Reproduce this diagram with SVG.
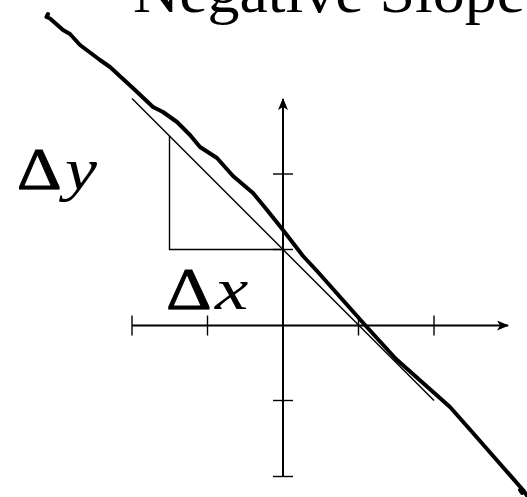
<svg xmlns="http://www.w3.org/2000/svg" width="527" height="497" viewBox="0 0 527 497">
<style>
.axis{stroke:#000;stroke-width:2;fill:none}
.tick{stroke:#000;stroke-width:1.4;fill:none}
.thin{stroke:#000;stroke-width:1.4;fill:none}
.hand{stroke:#000;stroke-width:4;fill:none;stroke-linejoin:round;stroke-linecap:round}
.lbl{font-family:"Liberation Serif","DejaVu Serif",serif;font-size:60px;fill:#000}
.it{font-style:italic}
</style>
<defs>
<marker id="arr" viewBox="0 0 12 10" refX="11" refY="5" markerWidth="6" markerHeight="5" orient="auto" markerUnits="strokeWidth">
<path d="M0 0 L12 5 L0 10 L3 5 Z" fill="#000"/>
</marker>
</defs>
<rect width="527" height="497" fill="#fff"/>
<g id="title">
<text class="lbl" x="133" y="12" textLength="392" lengthAdjust="spacingAndGlyphs">Negative Slope</text>
</g>
<g id="axes">
<line class="axis" x1="132" y1="325.5" x2="508" y2="325.5" marker-end="url(#arr)"/>
<line class="axis" x1="283" y1="476.5" x2="283" y2="99" marker-end="url(#arr)"/>
<g id="ticks">
<line class="tick" x1="132" y1="315.5" x2="132" y2="335.5"/>
<line class="tick" x1="207.5" y1="315.5" x2="207.5" y2="335.5"/>
<line class="tick" x1="358.5" y1="315.5" x2="358.5" y2="335.5"/>
<line class="tick" x1="434" y1="315.5" x2="434" y2="335.5"/>
<line class="tick" x1="273" y1="174" x2="293" y2="174"/>
<line class="tick" x1="273" y1="249.5" x2="293" y2="249.5"/>
<line class="tick" x1="273" y1="400.5" x2="293" y2="400.5"/>
<line class="tick" x1="273" y1="476.5" x2="293" y2="476.5"/>
</g>
</g>
<g id="connectors">
<line id="line" class="thin" x1="132" y1="98.5" x2="434" y2="400.5"/>
<polyline id="triangle" class="thin" points="169.5,136 169.5,249.5 283,249.5"/>
<path id="freehand" class="hand" d="M48,14 L46.5,17 L50,18.5 L63,30 L70,34 L80,45 L100,60 L110,67 L135,90 L153,107 L163,112 L177,122 L190,135 L200,147 L217,158 L233,176 L253,193 L267,210 L283,230 L303,256 L317,271 L365,325 L396,359 L450,407 L473,433 L523,490 L528,497"/>
<path class="hand" d="M520,490 L522,493"/>
</g>
<g id="label-dy">
<text class="lbl" x="16.7" y="189" textLength="45" lengthAdjust="spacingAndGlyphs" stroke="#000" stroke-width="0.8">Δ</text>
<text class="lbl it" x="65" y="189" textLength="32" lengthAdjust="spacingAndGlyphs">y</text>
</g>
<g id="label-dx">
<text class="lbl" x="166" y="309.3" textLength="45.7" lengthAdjust="spacingAndGlyphs" stroke="#000" stroke-width="0.8">Δ</text>
<text class="lbl it" x="215" y="309.3" textLength="33.3" lengthAdjust="spacingAndGlyphs">x</text>
</g>
</svg>
